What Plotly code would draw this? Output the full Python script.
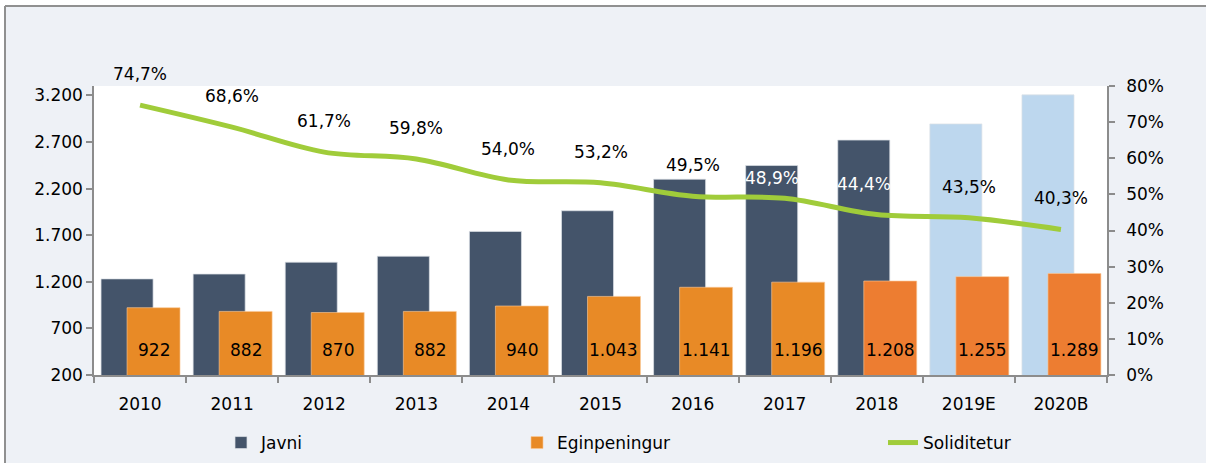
import plotly.graph_objects as go

# ---- data ----
categories = ["2010", "2011", "2012", "2013", "2014", "2015", "2016", "2017", "2018", "2019E", "2020B"]
javni = [1231, 1283, 1410, 1474, 1740, 1962, 2300, 2447, 2720, 2893, 3205]
eginpeningur = [922, 882, 870, 882, 940, 1043, 1141, 1196, 1208, 1255, 1289]
soliditetur = [0.747, 0.686, 0.617, 0.598, 0.540, 0.532, 0.495, 0.489, 0.444, 0.435, 0.403]
forecast = [False] * 9 + [True, True]
late_orange = [False] * 8 + [True, True, True]
white_labels = ["2017", "2018"]

# ---- style ----
FONT = "DejaVu Sans"
FS = 17
DARK = "#44546A"
LIGHT = "#BDD7EE"
ORANGE = "#E88A26"
ORANGE2 = "#ED7D31"
GREEN = "#A0CC3A"
AXIS = "#8C8C8C"
BG = "#EEF1F6"

W, H = 1206, 463
ML, MR, MT, MB = 94, 99, 86, 88
PW, PH = W - ML - MR, H - MT - MB


def xp(px):
    return (px - ML) / PW


def yp(py):
    return (H - MB - py) / PH


J_OFF, J_W = -0.4235, 0.565
E_OFF, E_W = -0.141, 0.575

javni_colors = [LIGHT if f else DARK for f in forecast]
egin_colors = [ORANGE2 if f else ORANGE for f in late_orange]

fig = go.Figure()
fig.add_trace(go.Bar(
    x=categories, y=javni, name="Javni",
    marker=dict(color=javni_colors, line=dict(color="rgba(220,224,230,0.9)", width=0.8)),
    offset=J_OFF, width=J_W, legend="legend", yaxis="y",
))
fig.add_trace(go.Bar(
    x=categories, y=eginpeningur, name="Eginpeningur",
    marker=dict(color=egin_colors, line=dict(color="rgba(250,200,150,0.8)", width=0.8)),
    offset=E_OFF, width=E_W, legend="legend2", yaxis="y",
))
fig.add_trace(go.Scatter(
    x=categories, y=soliditetur, name="Soliditetur", mode="lines",
    line=dict(color=GREEN, width=5, shape="spline", smoothing=1.0),
    yaxis="y2", legend="legend3",
))

annotations = []
for i, (c, v) in enumerate(zip(categories, soliditetur)):
    txt = f"{v * 100:.1f}%".replace(".", ",")
    on_bar = c in white_labels
    annotations.append(dict(
        x=i + (J_OFF + J_W / 2 if on_bar else 0), y=v, xref="x", yref="y2",
        text=txt, showarrow=False,
        yanchor="middle", yshift=20 if c == "2017" else 31,
        font=dict(family=FONT, size=FS, color="white" if on_bar else "black"),
    ))
for i, v in enumerate(eginpeningur):
    txt = f"{v:,}".replace(",", ".")
    annotations.append(dict(
        x=i + E_OFF + E_W / 2, y=200, xref="x", yref="y", text=txt, showarrow=False,
        yanchor="middle", yshift=25,
        font=dict(family=FONT, size=FS, color="black"),
    ))

shapes = [
    dict(type="rect", xref="paper", yref="paper", x0=xp(0), x1=xp(W), y0=yp(6), y1=yp(0),
         fillcolor="white", line=dict(width=0), layer="above"),
    dict(type="rect", xref="paper", yref="paper", x0=xp(0), x1=xp(5), y0=yp(H), y1=yp(0),
         fillcolor="white", line=dict(width=0), layer="above"),
    dict(type="line", xref="paper", yref="paper", x0=xp(5), x1=xp(W), y0=yp(6), y1=yp(6),
         line=dict(color="#909090", width=2), layer="above"),
    dict(type="line", xref="paper", yref="paper", x0=xp(5), x1=xp(5), y0=yp(6), y1=yp(H),
         line=dict(color="#909090", width=2), layer="above"),
]

leg_common = dict(orientation="h", yanchor="bottom", xanchor="left", bgcolor="rgba(0,0,0,0)",
                  font=dict(family=FONT, size=FS, color="black"), y=yp(H - 2))

fig.update_layout(
    width=W, height=H,
    margin=dict(l=ML, r=MR, t=MT, b=MB, pad=0, autoexpand=False),
    paper_bgcolor=BG, plot_bgcolor="white",
    barmode="overlay",
    separators=",.",
    font=dict(family=FONT, size=FS, color="black"),
    showlegend=True,
    legend=dict(x=xp(221), **leg_common),
    legend2=dict(x=xp(517), **leg_common),
    legend3=dict(x=xp(883), **leg_common),
    xaxis=dict(
        type="category", range=[-0.5, len(categories) - 0.5], automargin=False,
        showline=True, linecolor=AXIS, linewidth=1.5,
        ticks="outside", tickson="boundaries", ticklen=6, tickcolor=AXIS, tickwidth=1.5,
        tickfont=dict(family=FONT, size=FS, color="black"), ticklabelstandoff=13,
        showgrid=False, zeroline=False,
    ),
    yaxis=dict(
        range=[200, 3300], tick0=200, dtick=500, tickformat=",d", automargin=False,
        showline=True, linecolor=AXIS, linewidth=1.5,
        ticks="outside", ticklen=6, tickcolor=AXIS, tickwidth=1.5,
        tickfont=dict(family=FONT, size=FS, color="black"),
        showgrid=False, zeroline=False,
    ),
    yaxis2=dict(
        overlaying="y", side="right", range=[0, 0.8], dtick=0.1, tick0=0, tickformat=".0%",
        automargin=False,
        showline=True, linecolor=AXIS, linewidth=1.5,
        ticks="outside", ticklen=6, tickcolor=AXIS, tickwidth=1.5,
        tickfont=dict(family=FONT, size=FS, color="black"), ticklabelstandoff=8,
        showgrid=False, zeroline=False,
    ),
    annotations=annotations,
    shapes=shapes,
)

fig.write_html(
    "out.html",
    post_script="document.documentElement.style.overflow='hidden';document.body.style.overflow='hidden';document.body.style.margin='0';",
)
